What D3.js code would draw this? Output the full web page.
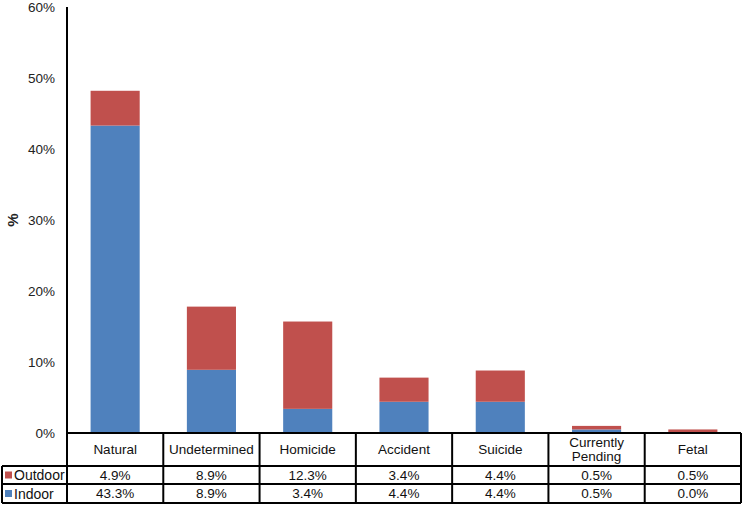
<!DOCTYPE html>
<html><head><meta charset="utf-8">
<script src="https://cdn.jsdelivr.net/npm/d3@7"></script>
<style>body{margin:0;background:#fff}svg{display:block;font-family:"Liberation Sans",Arial,sans-serif}</style>
</head><body>
<script>
const categories = ["Natural","Undetermined","Homicide","Accident","Suicide","Currently Pending","Fetal"];
const indoor = [43.3, 8.9, 3.4, 4.4, 4.4, 0.5, 0.0];
const outdoor = [4.9, 8.9, 12.3, 3.4, 4.4, 0.5, 0.5];
const seriesNames = ["Outdoor","Indoor"];
const seriesColors = ["#C0504D","#4F81BD"];
const yTicks = [0,10,20,30,40,50,60];

(function(){
const W=745,H=507;
const pLeft=67,pRight=741,pTop=7,pBase=433;
const rowY=[433,466,484,503];
const svg=d3.select("body").append("svg").attr("width",W).attr("height",H);

const x=d3.scaleBand().domain(categories).range([pLeft,pRight]).paddingInner(0).paddingOuter(0);
const y=d3.scaleLinear().domain([0,60]).range([pBase,pTop]);

const bw=x.bandwidth()*0.51;
const g=svg.append("g");
categories.forEach((c,i)=>{
  const cx=x(c)+x.bandwidth()/2;
  g.append("rect").attr("x",cx-bw/2).attr("width",bw)
    .attr("y",y(indoor[i])).attr("height",y(0)-y(indoor[i])).attr("fill",seriesColors[1]);
  g.append("rect").attr("x",cx-bw/2).attr("width",bw)
    .attr("y",y(indoor[i]+outdoor[i])).attr("height",y(indoor[i])-y(indoor[i]+outdoor[i])).attr("fill",seriesColors[0]);
});

const ax=svg.append("g").attr("transform",`translate(${pLeft},0)`)
  .call(d3.axisLeft(y).tickValues(yTicks).tickFormat(d=>d+"%").tickSize(0).tickPadding(12));
ax.select(".domain").remove();
ax.selectAll("text").attr("font-size","13.5px").attr("fill","#222").attr("font-family","Liberation Sans, Arial, sans-serif");
svg.append("line").attr("x1",pLeft).attr("x2",pLeft).attr("y1",pTop).attr("y2",rowY[3]).attr("stroke","#000").attr("stroke-width",2);

svg.append("text").attr("transform","translate(18,220) rotate(-90)").attr("text-anchor","middle")
  .attr("font-size","15px").attr("font-weight","bold").attr("fill","#222").text("%");

const tl=svg.append("g").attr("stroke","#000").attr("stroke-width",2);
tl.append("line").attr("x1",pLeft).attr("x2",pRight).attr("y1",rowY[0]).attr("y2",rowY[0]);
[1,2,3].forEach(k=>tl.append("line").attr("x1",2).attr("x2",pRight).attr("y1",rowY[k]).attr("y2",rowY[k]));
tl.append("line").attr("x1",2).attr("x2",2).attr("y1",rowY[1]).attr("y2",rowY[3]);
categories.forEach(c=>{
  const xb=x(c)+x.bandwidth();
  tl.append("line").attr("x1",xb).attr("x2",xb).attr("y1",rowY[0]).attr("y2",rowY[3]);
});

const tx=svg.append("g").attr("font-size","13.5px").attr("fill","#111").attr("text-anchor","middle");
categories.forEach((c,i)=>{
  const cx=x(c)+x.bandwidth()/2;
  const parts=c==="Currently Pending"?["Currently","Pending"]:[c];
  const mid=(rowY[0]+rowY[1])/2;
  parts.forEach((p,j)=>{
    tx.append("text").attr("x",cx).attr("y",mid+(j-(parts.length-1)/2)*14).attr("dy","0.35em").text(p);
  });
  tx.append("text").attr("x",cx).attr("y",(rowY[1]+rowY[2])/2).attr("dy","0.36em").text(outdoor[i].toFixed(1)+"%");
  tx.append("text").attr("x",cx).attr("y",(rowY[2]+rowY[3])/2).attr("dy","0.36em").text(indoor[i].toFixed(1)+"%");
});
seriesNames.forEach((s,k)=>{
  const cy=(rowY[k+1]+rowY[k+2])/2;
  svg.append("rect").attr("x",5).attr("y",cy-3.5).attr("width",7).attr("height",7).attr("fill",seriesColors[k]);
  svg.append("text").attr("x",14).attr("y",cy).attr("dy","0.36em").attr("font-size","14px").attr("fill","#111").text(s);
});
})();
</script>
</body></html>
